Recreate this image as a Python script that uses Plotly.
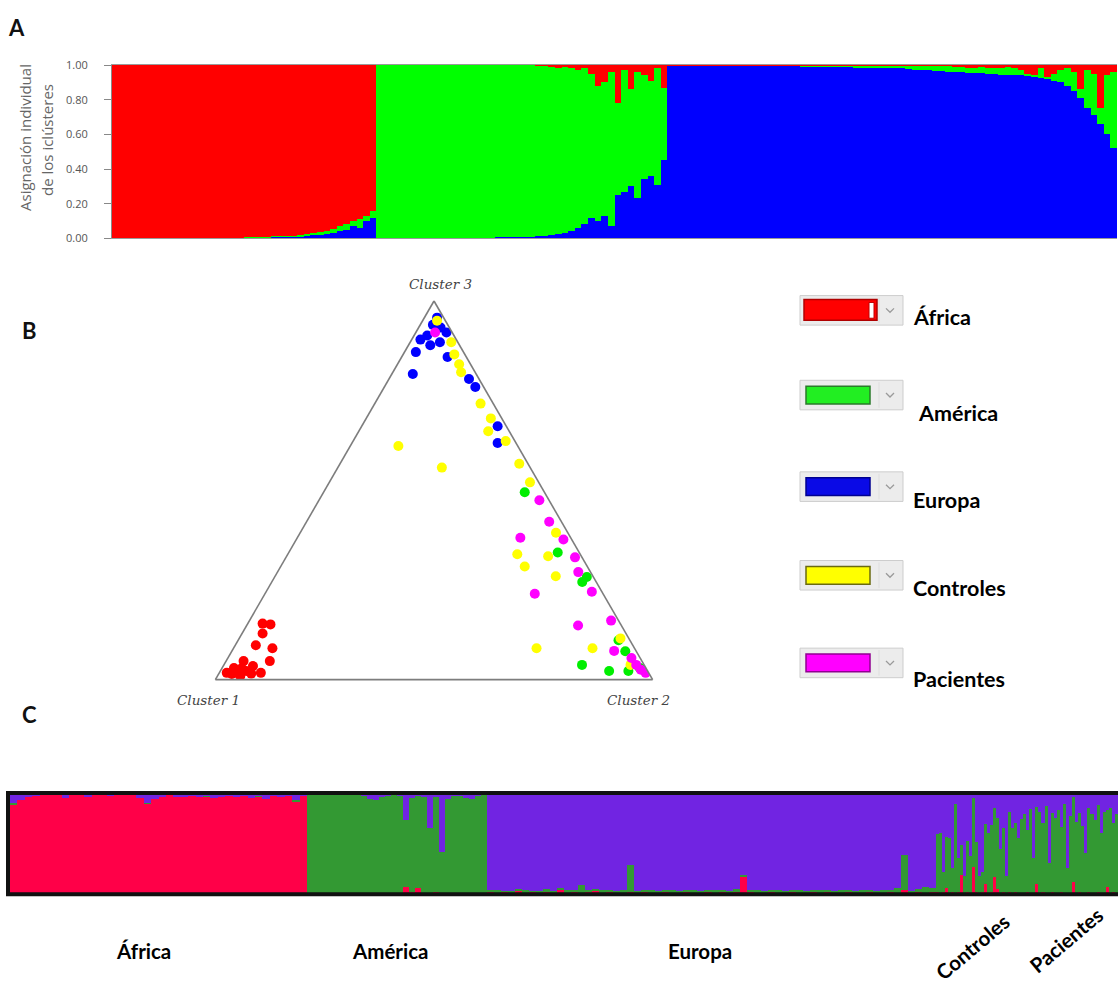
import plotly.graph_objects as go

W, H = 1118, 990

# ---------------- Panel A: individual cluster assignment (K = 3) ----------------
# One bar per individual, sorted by reference group; dominant cluster is the remainder.
afr_blue = [0, 0, 0, 0, 0, 0, 0, 0, 0, 0,
            0, 0, 0, 0, 0, 0, 0.003, 0.003, 0.004, 0.004,
            0.005, 0.005, 0.006, 0.006, 0.008, 0.008, 0.01, 0.01, 0.012, 0.015,
            0.018, 0.02, 0.025, 0.03, 0.04, 0.05, 0.07, 0.06, 0.10, 0.12]
afr_green = [0, 0, 0, 0, 0, 0, 0, 0, 0, 0,
             0, 0, 0, 0, 0, 0, 0, 0, 0, 0,
             0.002, 0.002, 0.003, 0.003, 0.004, 0.005, 0.005, 0.006, 0.008, 0.01,
             0.012, 0.015, 0.02, 0.025, 0.03, 0.03, 0.03, 0.05, 0.03, 0.035]

amr_blue = [0, 0, 0, 0, 0, 0, 0, 0, 0, 0,
            0, 0, 0, 0.002, 0.003, 0.003, 0.004, 0.004, 0.005, 0.005,
            0.006, 0.008, 0.01, 0.01, 0.012, 0.015, 0.02, 0.025, 0.03, 0.04,
            0.06, 0.08, 0.12, 0.10, 0.13, 0.07, 0.25, 0.27, 0.30, 0.23,
            0.34, 0.36, 0.31, 0.45]
amr_red = [0, 0, 0, 0, 0, 0, 0, 0, 0, 0,
           0, 0, 0, 0, 0, 0, 0, 0, 0, 0,
           0, 0, 0, 0, 0.002, 0.005, 0.01, 0.02, 0.01, 0.02,
           0.03, 0.02, 0.05, 0.12, 0.10, 0.04, 0.22, 0.03, 0.14, 0.04,
           0.06, 0.09, 0.02, 0.13]

eur_green = [0.002, 0.002, 0.002, 0.002, 0.002, 0.002, 0.002, 0.002, 0.002, 0.002,
             0.003, 0.003, 0.003, 0.003, 0.003, 0.003, 0.003, 0.003, 0.003, 0.003,
             0.004, 0.005, 0.005, 0.006, 0.006, 0.007, 0.007, 0.008, 0.01, 0.011,
             0.013, 0.014, 0.015, 0.016, 0.017, 0.018, 0.021, 0.024, 0.027, 0.03,
             0.032, 0.032, 0.035, 0.035, 0.035, 0.03, 0.027, 0.039, 0.031, 0.038,
             0.035, 0.046, 0.038, 0.03, 0.015, 0.015, 0.055, 0.01, 0.04, 0.07,
             0.10, 0.11, 0.05, 0.22, 0.24, 0.09, 0.34, 0.44]
eur_red = [0.002, 0.002, 0.001, 0.002, 0.002, 0.001, 0.002, 0.002, 0.002, 0.001,
           0.002, 0.002, 0.001, 0.002, 0.002, 0.001, 0.002, 0.002, 0.002, 0.001,
           0.002, 0.002, 0.001, 0.002, 0.002, 0.001, 0.002, 0.002, 0.002, 0.001,
           0.002, 0.002, 0.001, 0.002, 0.002, 0.001, 0.002, 0.002, 0.002, 0.001,
           0.003, 0.005, 0.004, 0.006, 0.008, 0.015, 0.02, 0.01, 0.02, 0.015,
           0.02, 0.01, 0.02, 0.03, 0.05, 0.055, 0.02, 0.07, 0.05, 0.03,
           0.02, 0.04, 0.14, 0.03, 0.05, 0.25, 0.06, 0.04]

A_TICKS = [0.0, 0.2, 0.4, 0.6, 0.8, 1.0]

# ---------------- Panel B: triangle plot (Cluster 1, Cluster 2, Cluster 3) ----------------
tri_africa = [(0.818, 0.034, 0.148), (0.801, 0.053, 0.146), (0.831, 0.047, 0.122),
              (0.862, 0.047, 0.091), (0.828, 0.089, 0.083), (0.851, 0.100, 0.049),
              (0.911, 0.040, 0.049), (0.942, 0.027, 0.031), (0.965, 0.017, 0.018),
              (0.896, 0.068, 0.036), (0.887, 0.095, 0.018), (0.942, 0.040, 0.018),
              (0.918, 0.059, 0.023), (0.938, 0.052, 0.010), (0.910, 0.074, 0.016),
              (0.955, 0.030, 0.015), (0.925, 0.045, 0.030)]
tri_europa = [(0.015, 0.029, 0.956), (0.034, 0.029, 0.937), (0.061, 0.030, 0.909),
              (0.082, 0.020, 0.898), (0.109, 0.026, 0.865), (0.067, 0.050, 0.883),
              (0.041, 0.068, 0.891), (0.013, 0.070, 0.917), (0.043, 0.105, 0.852),
              (0.145, 0.048, 0.807), (0.023, 0.183, 0.794), (0.019, 0.208, 0.773),
              (0.020, 0.311, 0.669), (0.042, 0.333, 0.625), (0.020, 0.050, 0.930)]
tri_america = [(0.045, 0.460, 0.495), (0.049, 0.615, 0.336), (0.032, 0.710, 0.258),
               (0.015, 0.714, 0.271), (0.026, 0.870, 0.104), (0.025, 0.900, 0.075),
               (0.142, 0.819, 0.039), (0.088, 0.889, 0.023), (0.044, 0.933, 0.023),
               (0.014, 0.955, 0.031)]
tri_controles = [(0.019, 0.033, 0.948), (0.015, 0.094, 0.891), (0.024, 0.117, 0.859),
                 (0.026, 0.141, 0.833), (0.032, 0.156, 0.812), (0.029, 0.242, 0.729),
                 (0.025, 0.285, 0.690), (0.048, 0.296, 0.656), (0.021, 0.349, 0.630),
                 (0.020, 0.410, 0.570), (0.273, 0.110, 0.617), (0.202, 0.238, 0.560),
                 (0.020, 0.459, 0.521), (0.144, 0.525, 0.331), (0.143, 0.558, 0.299),
                 (0.076, 0.598, 0.326), (0.085, 0.642, 0.273), (0.027, 0.585, 0.388),
                 (0.224, 0.693, 0.083), (0.096, 0.821, 0.083), (0.019, 0.872, 0.109),
                 (0.031, 0.930, 0.039)]
tri_pacientes = [(0.039, 0.044, 0.917), (0.022, 0.504, 0.474), (0.028, 0.555, 0.417),
                 (0.115, 0.510, 0.375), (0.019, 0.611, 0.370), (0.016, 0.661, 0.323),
                 (0.028, 0.688, 0.284), (0.023, 0.745, 0.232), (0.156, 0.617, 0.227),
                 (0.099, 0.758, 0.143), (0.017, 0.827, 0.156), (0.050, 0.874, 0.076),
                 (0.020, 0.923, 0.057), (0.018, 0.943, 0.039), (0.014, 0.960, 0.026),
                 (0.007, 0.975, 0.018)]

LEGEND_NAMES = ["África", "América", "Europa", "Controles", "Pacientes"]

# ---------------- Panel C: assignment including cases and controls ----------------
c_afr_green = [0.02, 0, 0, 0, 0, 0, 0, 0, 0, 0,
               0, 0, 0, 0, 0, 0, 0, 0, 0.01, 0,
               0, 0, 0, 0, 0, 0, 0.01, 0, 0, 0,
               0, 0, 0, 0.01, 0, 0, 0, 0, 0.02, 0]
c_afr_purple = [0.08, 0.05, 0.02, 0.01, 0, 0, 0, 0.03, 0, 0,
                0.02, 0, 0, 0.01, 0, 0, 0, 0.03, 0.08, 0.04,
                0.02, 0, 0.02, 0.02, 0.01, 0.02, 0.01, 0.03, 0.02, 0.01,
                0.02, 0.01, 0.03, 0.01, 0.04, 0.01, 0.02, 0.01, 0.05, 0.01]

c_amr_red = [0, 0, 0, 0, 0, 0.01, 0, 0, 0, 0,
             0, 0, 0, 0, 0, 0, 0.07, 0.02, 0.06, 0,
             0, 0.02, 0, 0, 0, 0, 0, 0, 0, 0]
c_amr_purple = [0, 0, 0, 0, 0, 0, 0, 0, 0, 0.01,
                0.04, 0.05, 0.02, 0.01, 0, 0.01, 0.25, 0.03, 0.01, 0.02,
                0.33, 0.02, 0.58, 0.04, 0.01, 0.01, 0.03, 0.04, 0.01, 0]

c_eur_red = [0.02, 0.01, 0.02, 0.01, 0.03, 0.01, 0.02, 0.01, 0.02, 0.01,
             0.04, 0.01, 0.02, 0.01, 0.02, 0.03, 0.01, 0.02, 0.01, 0.01,
             0.02, 0.01, 0.02, 0.01, 0.01, 0.02, 0.01, 0.01, 0.02, 0.01,
             0.01, 0.02, 0.01, 0.02, 0.01, 0.02, 0.17, 0.02, 0.01, 0.01,
             0.02, 0.01, 0.01, 0.02, 0.01, 0.01, 0.02, 0.01, 0.02, 0.01,
             0.01, 0.02, 0.01, 0.01, 0.02, 0.01, 0.01, 0.02, 0.01, 0.04,
             0.01, 0.02, 0.01, 0.02]
c_eur_green = [0.02, 0.03, 0.01, 0.02, 0.02, 0.03, 0.01, 0.02, 0.03, 0.02,
               0.02, 0.03, 0.02, 0.08, 0.02, 0.02, 0.03, 0.02, 0.02, 0.03,
               0.27, 0.02, 0.02, 0.03, 0.02, 0.02, 0.03, 0.02, 0.02, 0.03,
               0.02, 0.02, 0.03, 0.02, 0.02, 0.03, 0.02, 0.02, 0.03, 0.02,
               0.02, 0.03, 0.02, 0.02, 0.03, 0.02, 0.02, 0.03, 0.02, 0.02,
               0.03, 0.02, 0.02, 0.03, 0.02, 0.02, 0.03, 0.02, 0.05, 0.35,
               0.02, 0.03, 0.06, 0.04]

c_ctl_red = [0.02, 0.01, 0.02, 0.06, 0.01, 0.02, 0.01, 0.02, 0.19, 0.01,
             0.02, 0.01, 0.27, 0.02, 0.01, 0.02, 0.10, 0.01, 0.02, 0.17,
             0.05, 0.01, 0.02, 0.01, 0.02, 0.01, 0.02, 0.01]
c_ctl_green = [0.58, 0.60, 0.20, 0.51, 0.55, 0.24, 0.90, 0.34, 0.30, 0.17,
               0.51, 0.37, 0.70, 0.50, 0.17, 0.20, 0.61, 0.60, 0.68, 0.70,
               0.72, 0.44, 0.64, 0.17, 0.81, 0.66, 0.70, 0.55]

c_pac_red = [0.01, 0.01, 0.02, 0.01, 0.01, 0.10, 0.01, 0.02, 0.01, 0.01,
             0.02, 0.01, 0.01, 0.02, 0.01, 0.01, 0.01, 0.12, 0.01, 0.02,
             0.01, 0.01, 0.02, 0.01, 0.01, 0.02, 0.01, 0.01, 0.07, 0.01,
             0.02, 0.01]
c_pac_green = [0.75, 0.80, 0.62, 0.85, 0.35, 0.78, 0.82, 0.70, 0.88, 0.30,
               0.80, 0.76, 0.84, 0.66, 0.90, 0.25, 0.78, 0.86, 0.72, 0.80,
               0.68, 0.40, 0.85, 0.80, 0.74, 0.88, 0.60, 0.82, 0.78, 0.86,
               0.70, 0.80]

C_GROUP_LABELS = ["África", "América", "Europa", "Controles", "Pacientes"]

# ---------------- layout constants (pixels) ----------------
C_SPANS = [297, 180, 449, 84, 98]          # width of each group strip in panel C
A_RED, A_GREEN, A_BLUE = "#ff0000", "#00ff00", "#0000ff"
C_RED, C_GREEN, C_PURPLE = "#ff0048", "#339933", "#7124e2"
TRI_COLORS = ["#ff0000", "#00ee00", "#0000ff", "#ffff00", "#ff00ff"]
LEG_FILL = ["#ff0000", "#22ee22", "#0a0ae6", "#ffff00", "#ff00ff"]
LEG_EDGE = ["#b00000", "#2a7a2a", "#000090", "#6a6a10", "#900090"]
LEG_BOX_Y = [307, 393, 486, 576, 665]
LEG_TEXT_Y = [314, 411, 500, 589, 681]
LEG_TEXT_X = [911, 916, 911, 911, 911]

for lst, n in [(afr_blue, 40), (afr_green, 40), (amr_blue, 44), (amr_red, 44),
               (eur_green, 68), (eur_red, 68), (c_afr_green, 40), (c_afr_purple, 40),
               (c_amr_red, 30), (c_amr_purple, 30), (c_eur_red, 64), (c_eur_green, 64),
               (c_ctl_red, 28), (c_ctl_green, 28), (c_pac_red, 32), (c_pac_green, 32)]:
    assert len(lst) == n


def px(x):
    return x / W


def py(y):
    return 1 - y / H


fig = go.Figure()

# ---- Panel A bars (stack: blue, green, red from the bottom) ----
a_blue = afr_blue + amr_blue + [1 - g - r for g, r in zip(eur_green, eur_red)]
a_green = afr_green + [1 - b - r for b, r in zip(amr_blue, amr_red)] + eur_green
a_red = [1 - b - g for b, g in zip(afr_blue, afr_green)] + amr_red + eur_red
nA = len(a_blue)
xA = list(range(nA))
for vals, col in [(a_blue, A_BLUE), (a_green, A_GREEN), (a_red, A_RED)]:
    fig.add_trace(go.Bar(x=xA, y=vals, width=1.0, marker=dict(color=col, line=dict(width=0)),
                         xaxis="x", yaxis="y", showlegend=False, hoverinfo="skip"))

# ---- Panel C bars (stack: red, green, purple from the bottom) ----
groups_C = [
    ([1 - g - p for g, p in zip(c_afr_green, c_afr_purple)], c_afr_green, c_afr_purple),
    (c_amr_red, [1 - r - p for r, p in zip(c_amr_red, c_amr_purple)], c_amr_purple),
    (c_eur_red, c_eur_green, [1 - r - g for r, g in zip(c_eur_red, c_eur_green)]),
    (c_ctl_red, c_ctl_green, [1 - r - g for r, g in zip(c_ctl_red, c_ctl_green)]),
    (c_pac_red, c_pac_green, [1 - r - g for r, g in zip(c_pac_red, c_pac_green)]),
]
xC, wC, rC, gC, pC = [], [], [], [], []
start = 0.0
for (reds, greens, purples), span in zip(groups_C, C_SPANS):
    n = len(reds)
    bw = span / n
    xC += [start + (i + 0.5) * bw for i in range(n)]
    wC += [bw] * n
    rC += reds
    gC += greens
    pC += purples
    start += span
for vals, col in [(rC, C_RED), (gC, C_GREEN), (pC, C_PURPLE)]:
    fig.add_trace(go.Bar(x=xC, y=vals, width=wC, marker=dict(color=col, line=dict(width=0)),
                         xaxis="x2", yaxis="y2", showlegend=False, hoverinfo="skip"))

# ---- Panel B triangle points ----
for pts, col in [(tri_africa, TRI_COLORS[0]), (tri_europa, TRI_COLORS[2]),
                 (tri_america, TRI_COLORS[1]), (tri_controles, TRI_COLORS[3]),
                 (tri_pacientes, TRI_COLORS[4])]:
    fig.add_trace(go.Scatterternary(
        b=[p[0] for p in pts], c=[p[1] for p in pts], a=[p[2] for p in pts],
        mode="markers", marker=dict(size=10, color=col, line=dict(width=0)),
        showlegend=False, hoverinfo="skip"))

tern_axis = dict(showticklabels=False, showgrid=False, ticks="", showline=True,
                 linecolor="#7d7d7d", linewidth=1.6, title=dict(text=""))

ann = []
# panel letters
for letter, (lx, ly) in zip(["A", "B", "C"], [(16, 20), (29, 327), (29, 717)]):
    ann.append(dict(x=px(lx), y=py(ly), xref="paper", yref="paper", text=letter, showarrow=False,
                    xanchor="center", yanchor="middle",
                    font=dict(family="Lato", size=22, color="#111", weight="bold")))
# panel A axis title (two lines)
ann.append(dict(x=px(25), y=py(132), xref="paper", yref="paper", text="Asignación individual",
                showarrow=False, textangle=-90, xanchor="center", yanchor="middle",
                font=dict(family="Open Sans", size=15, color="#666")))
ann.append(dict(x=px(47), y=py(134), xref="paper", yref="paper", text="de los iclústeres",
                showarrow=False, textangle=-90, xanchor="center", yanchor="middle",
                font=dict(family="Open Sans", size=15, color="#666")))
# triangle vertex labels
for t, (lx, ly) in zip(["Cluster 3", "Cluster 1", "Cluster 2"], [(440, 280), (208, 703), (638, 703)]):
    ann.append(dict(x=px(lx), y=py(ly), xref="paper", yref="paper", text=t, showarrow=False,
                    xanchor="center", yanchor="middle",
                    font=dict(family="DejaVu Serif", size=13.5, color="#444", style="italic")))
# legend labels
for name, tx, ty in zip(LEGEND_NAMES, LEG_TEXT_X, LEG_TEXT_Y):
    ann.append(dict(x=px(tx), y=py(ty), xref="paper", yref="paper", text=name, showarrow=False,
                    xanchor="left", yanchor="middle",
                    font=dict(family="Lato", size=21.5, color="#000", weight="bold")))
# panel C group labels
for name, (lx, ly), ang in zip(C_GROUP_LABELS,
                               [(143, 957), (390, 957), (700, 957), (972, 953), (1066, 946)],
                               [0, 0, 0, -40, -40]):
    ann.append(dict(x=px(lx), y=py(ly), xref="paper", yref="paper", text=name, showarrow=False,
                    xanchor="center", yanchor="middle", textangle=ang,
                    font=dict(family="Lato", size=20.5, color="#000", weight="bold")))

shapes = []
# legend swatches styled as colour pickers
for i, yc in enumerate(LEG_BOX_Y):
    shapes.append(dict(type="rect", xref="paper", yref="paper", x0=px(800), x1=px(903),
                       y0=py(yc + 15), y1=py(yc - 15), fillcolor="#ececec",
                       line=dict(color="#cdcdcd", width=1), layer="above"))
    shapes.append(dict(type="line", xref="paper", yref="paper", x0=px(879), x1=px(879),
                       y0=py(yc + 13), y1=py(yc - 13), line=dict(color="#dedede", width=1)))
    if i == 0:
        x0s, x1s, y0s, y1s = 804, 877, yc + 10, yc - 11
    else:
        x0s, x1s, y0s, y1s = 806, 870, yc + 9, yc - 9
    shapes.append(dict(type="rect", xref="paper", yref="paper", x0=px(x0s), x1=px(x1s),
                       y0=py(y0s), y1=py(y1s), fillcolor=LEG_FILL[i],
                       line=dict(color=LEG_EDGE[i], width=1.5), layer="above"))
    if i == 0:
        shapes.append(dict(type="rect", xref="paper", yref="paper", x0=px(869), x1=px(874),
                           y0=py(yc + 8), y1=py(yc - 8), fillcolor="#ffffff",
                           line=dict(color="#c00000", width=1), layer="above"))
    path = "M {} {} L {} {} L {} {}".format(px(886), py(yc - 2), px(890), py(yc + 2),
                                             px(894), py(yc - 2))
    shapes.append(dict(type="path", xref="paper", yref="paper", path=path,
                       line=dict(color="#9a9a9a", width=1.3), layer="above"))
# panel C frame
shapes.append(dict(type="rect", xref="paper", yref="paper", x0=px(8), x1=px(1130),
                   y0=py(900), y1=py(797), line=dict(color="#111", width=4), layer="above"))

fig.update_layout(
    width=W, height=H, autosize=False,
    margin=dict(l=0, r=0, t=0, b=0),
    paper_bgcolor="white", plot_bgcolor="white",
    barmode="stack", bargap=0,
    xaxis=dict(domain=[px(112), px(1117)], range=[-0.5, nA - 0.5], showticklabels=False,
               ticks="", showgrid=False, zeroline=False, showline=True, mirror=True,
               linecolor="#9a9a9a", linewidth=1, fixedrange=True),
    yaxis=dict(domain=[py(234), py(58)], range=[0, 1], tickvals=A_TICKS, tickformat=".2f",
               ticks="outside", ticklen=7, tickcolor="#888", showgrid=False, zeroline=False,
               showline=True, linecolor="#8a8a8a", linewidth=1, ticklabelstandoff=14,
               tickfont=dict(family="Open Sans", size=11, color="#555"), fixedrange=True),
    xaxis2=dict(domain=[px(10), px(1118)], range=[0, sum(C_SPANS)], showticklabels=False,
                ticks="", showgrid=False, zeroline=False, showline=False, anchor="y2",
                fixedrange=True),
    yaxis2=dict(domain=[py(899), py(799)], range=[0, 1], showticklabels=False, ticks="",
                showgrid=False, zeroline=False, showline=False, anchor="x2", fixedrange=True),
    ternary=dict(domain=dict(x=[px(212), px(656)], y=[py(682), py(297.5)]), sum=1,
                 bgcolor="white", aaxis=tern_axis, baxis=tern_axis, caxis=tern_axis),
    annotations=ann,
    shapes=shapes,
)

fig.write_html("out.html", config={"displayModeBar": False})
